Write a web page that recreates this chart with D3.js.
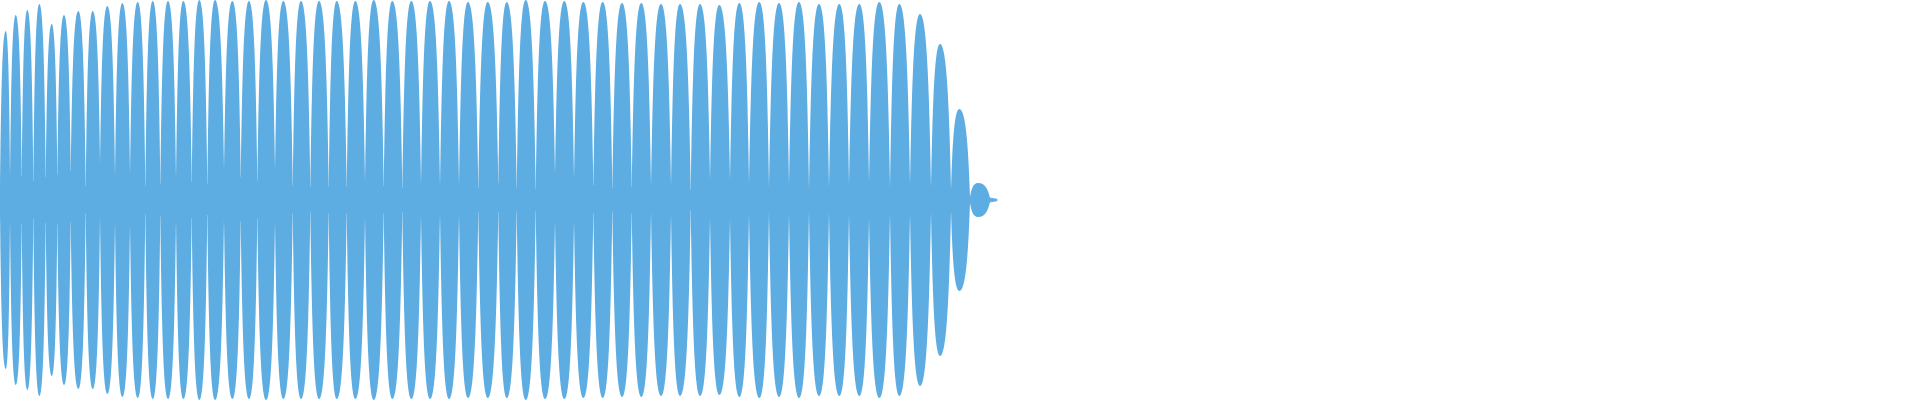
<!DOCTYPE html>
<html>
<head>
<meta charset="utf-8">
<title>waveform</title>
<script src="https://cdn.jsdelivr.net/npm/d3@7/dist/d3.min.js"></script>
<style>
body { margin: 0; background: #fff; }
svg { display: block; }
</style>
</head>
<body>
<div id="chart"></div>
<script>
// peak of each lobe: position (sample column) and normalised amplitude
const peakX = [5.7, 15.7, 27.3, 39.3, 51.7, 64, 78.3, 92.7, 107.3, 122.3, 137.7, 152.7, 168, 183.3,
  199.3, 215, 232.3, 249, 266, 283.3, 301, 319, 336.7, 355.3, 373.7, 392.3, 411.3, 430, 449, 468,
  487.7, 506.7, 525.7, 545, 564.3, 583.3, 602.7, 622, 641.3, 661, 680, 700, 719.3, 739.3, 759.3,
  779, 799, 819, 839.3, 859.3, 879.3, 899.3, 920, 940, 959.3, 978];
const peakAmp = [0.845, 0.925, 0.95, 0.98, 0.88, 0.925, 0.945, 0.945, 0.97, 0.985, 0.99, 0.995, 0.995, 0.995,
  1.0, 1.0, 0.995, 0.995, 1.0, 0.995, 0.995, 0.995, 0.995, 0.995, 1.0, 0.995, 0.995, 0.995, 0.995, 0.99,
  0.99, 0.99, 1.0, 0.995, 0.995, 0.99, 0.99, 0.985, 0.985, 0.98, 0.98, 0.98, 0.975, 0.985, 0.99,
  0.985, 0.99, 0.98, 0.98, 0.98, 0.99, 0.98, 0.93, 0.78, 0.455, 0.085];

// valleys between lobes (first = start, last = end of sound)
const valleyX = [0, 10, 21.7, 33.3, 45.7, 57.3, 70.7, 85.7, 100, 115, 130, 145.3, 160.3, 176, 191.7,
  207.3, 224, 240.7, 257.3, 275, 292.7, 310.3, 328.7, 346.7, 365, 383.7, 402.3, 421, 440, 459,
  478.3, 498.3, 516.7, 535.7, 555, 574, 593.3, 612.3, 631.7, 651, 671, 690.7, 710, 730, 749,
  769, 789, 809, 829, 849, 869, 890, 910, 931, 951, 970, 990];
const floorTop = [0.07, 0.105, 0.12, 0.095, 0.115, 0.125, 0.145, 0.065, 0.18, 0.115, 0.125, 0.07, 0.08, 0.1, 0.09,
  0.08, 0.15, 0.115, 0.095, 0.15, 0.07, 0.065, 0.065, 0.065, 0.09, 0.07, 0.06, 0.075, 0.065, 0.07,
  0.06, 0.085, 0.06, 0.055, 0.125, 0.105, 0.075, 0.06, 0.065, 0.065, 0.065, 0.05, 0.095, 0.095, 0.08,
  0.06, 0.075, 0.05, 0.06, 0.075, 0.09, 0.06, 0.075, 0.06, 0.05, 0.015, 0.01];
const floorBot = [0.06, 0.105, 0.12, 0.09, 0.115, 0.12, 0.11, 0.065, 0.085, 0.11, 0.12, 0.07, 0.08, 0.095, 0.09,
  0.075, 0.095, 0.105, 0.09, 0.11, 0.065, 0.06, 0.065, 0.065, 0.085, 0.065, 0.06, 0.075, 0.065, 0.07,
  0.06, 0.06, 0.055, 0.055, 0.105, 0.105, 0.065, 0.055, 0.065, 0.06, 0.07, 0.05, 0.09, 0.095, 0.065,
  0.06, 0.065, 0.055, 0.06, 0.07, 0.09, 0.065, 0.07, 0.06, 0.055, 0.015, 0.01];

// faint tail after the last lobe
const tailX = [990, 997];
const tailAmp = [0.01, 0.004];

const width = 1920, height = 400;
const color = "#5dade2";

const x = d3.scaleLinear().domain([0, 1920]).range([0, width]);
const y = d3.scaleLinear().domain([-1, 1]).range([height, 0]);

// curve for a 3-point lobe (valley, peak, valley): steep at the valleys, rounded at the peak
function lobeCurve(context) {
  const c = 0.15, a = 0.5, b = 0.65;
  let pts, line;
  return {
    areaStart() { line = 0; },
    areaEnd() { line = NaN; },
    lineStart() { pts = []; },
    point(px, py) { pts.push([+px, +py]); },
    lineEnd() {
      pts.forEach((p, i) => {
        if (i === 0) {
          line ? context.lineTo(p[0], p[1]) : context.moveTo(p[0], p[1]);
          return;
        }
        const q = pts[i - 1], dx = p[0] - q[0], dy = p[1] - q[1];
        if (i % 2 === 1)
          context.bezierCurveTo(q[0] + c * dx, q[1] + a * dy, p[0] - b * dx, p[1], p[0], p[1]);
        else
          context.bezierCurveTo(q[0] + b * dx, q[1], p[0] - c * dx, p[1] - a * dy, p[0], p[1]);
      });
      if (line || (line !== 0 && pts.length === 1)) context.closePath();
      line = 1 - line;
    }
  };
}

const svg = d3.select("#chart").append("svg")
    .attr("width", width)
    .attr("height", height);

const lobes = peakX.map((px, i) => [
  {x: valleyX[i], top: floorTop[i], bot: floorBot[i]},
  {x: px, top: peakAmp[i], bot: peakAmp[i]},
  {x: valleyX[i + 1], top: floorTop[i + 1], bot: floorBot[i + 1]}
]);

const lobeArea = d3.area()
    .x(d => x(d.x))
    .y0(d => y(-d.bot))
    .y1(d => y(d.top))
    .curve(lobeCurve);

const flatArea = d3.area()
    .x(d => x(d.x))
    .y0(d => y(-d.bot))
    .y1(d => y(d.top));

// centre band under the lobes so the joins don't show
const band = valleyX.map((v, i) => ({x: v, top: floorTop[i], bot: floorBot[i]}));
svg.append("path")
    .datum(band)
    .attr("fill", color)
    .attr("d", flatArea);

svg.append("g")
    .selectAll("path")
    .data(lobes)
    .join("path")
    .attr("fill", color)
    .attr("d", lobeArea);

const tail = tailX.map((t, i) => ({x: t, top: tailAmp[i], bot: tailAmp[i]}));
svg.append("path")
    .datum(tail)
    .attr("fill", color)
    .attr("stroke", color)
    .attr("stroke-width", 0.8)
    .attr("d", flatArea);
</script>
</body>
</html>
